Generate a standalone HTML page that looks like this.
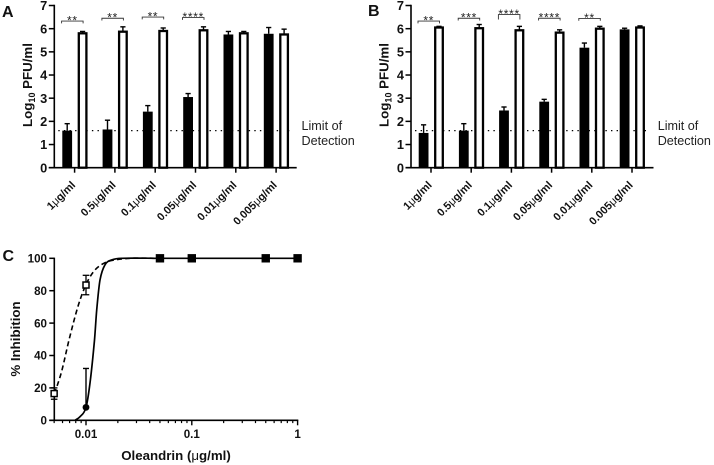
<!DOCTYPE html>
<html>
<head>
<meta charset="utf-8">
<style>
html,body{margin:0;padding:0;background:#fff;width:714px;height:465px;overflow:hidden}
svg{display:block}
text{font-family:"Liberation Sans",Arial,sans-serif;fill:#111}
.tick{font-weight:700;font-size:12.8px}
.tick-c{font-weight:700;font-size:11.6px}
.title{font-weight:700;font-size:13.3px}
.letter{font-weight:700;font-size:16px}
.note{font-size:12.6px;fill:#222}
.cat{font-weight:700;font-size:11px}
.mu{font-weight:400}
.star{font-size:12px;letter-spacing:.7px;text-anchor:middle;fill:#222}
</style>
</head>
<body>
<svg id="figure" width="714" height="465" viewBox="0 0 714 465" xmlns="http://www.w3.org/2000/svg"></svg>
<script>
// ---- Shared bar chart data ----
const doseLabels = ['1', '0.5', '0.1', '0.05', '0.01', '0.005'];
const barTicks = [0, 1, 2, 3, 4, 5, 6, 7];
const limitOfDetection = 1.6;

// ---- Panel A ----
const aBlack = [1.6, 1.65, 2.42, 3.05, 5.75, 5.78];
const aBlackTop = [1.9, 2.05, 2.68, 3.2, 5.88, 6.05];
const aWhite = [5.8, 5.87, 5.9, 5.93, 5.8, 5.75];
const aWhiteTop = [5.88, 6.08, 6.03, 6.08, 5.88, 5.98];
const aSigStars = ['**', '**', '**', '****'];
const aSigLevel = [6.33, 6.45, 6.5, 6.48];

// ---- Panel B ----
const bBlack = [1.5, 1.6, 2.47, 2.85, 5.18, 5.97];
const bBlackTop = [1.85, 1.9, 2.62, 2.95, 5.38, 6.02];
const bWhite = [6.05, 6.02, 5.93, 5.83, 6.0, 6.05];
const bWhiteTop = [6.1, 6.18, 6.1, 5.95, 6.1, 6.12];
const bSigStars = ['**', '***', '****', '****', '**'];
const bSigLevel = [6.33, 6.45, 6.61, 6.45, 6.44];

// ---- Panel C ----
const inhibitionTicks = [0, 20, 40, 60, 80, 100];
const doseTicks = [0.01, 0.1, 1];
const doseTickLabels = ['0.01', '0.1', '1'];
const minorDoses = [0.005, 0.006, 0.007, 0.008, 0.009, 0.02, 0.03, 0.04, 0.05, 0.06, 0.07, 0.08, 0.09, 0.2, 0.3, 0.4, 0.5, 0.6, 0.7, 0.8, 0.9];
const solidCurveDose = [0.00787, 0.00878, 0.01, 0.01091, 0.01203, 0.01262, 0.01356, 0.01512, 0.0175, 0.02175, 0.05, 0.1, 0.5, 1];
const solidCurvePct = [0, 2.2, 8, 23, 49.5, 68, 86.6, 96, 99, 100, 100, 100, 100, 100];
const dashCurveDose = [0.005, 0.0053, 0.00593, 0.00691, 0.00846, 0.01015, 0.01216, 0.01512, 0.0188, 0.026, 0.05];
const dashCurvePct = [16.5, 20.7, 31, 49.6, 71, 84.7, 92.8, 97.3, 99, 100, 100];
const blackSquareDose = [0.05, 0.1, 0.5, 1];
const blackSquarePct = [100, 100, 100, 100];
const whiteSquareDose = [0.005, 0.01];
const whiteSquarePct = [16.5, 83.5];
const whiteSquareErr = [3.5, 6];
const circleDose = [0.01];
const circlePct = [8];
const circleTop = [32];

const svg = document.getElementById('figure');
const NS = 'http://www.w3.org/2000/svg';

function make(tag, parent) {
  const el = document.createElementNS(NS, tag);
  (parent || svg).appendChild(el);
  return el;
}
function line(x1, y1, x2, y2, w, name) {
  const el = make('line');
  el.setAttribute('x1', x1);
  el.setAttribute('y1', y1);
  el.setAttribute('x2', x2);
  el.setAttribute('y2', y2);
  el.setAttribute('stroke', '#000');
  el.setAttribute('stroke-width', w);
  
  
  return el;
}
function label(x, y, str, cls, anchor, name) {
  const el = make('text');
  el.setAttribute('x', x);
  el.setAttribute('y', y);
  el.setAttribute('class', cls);
  el.setAttribute('text-anchor', anchor);
  el.textContent = str;
  
  
  return el;
}
function errorCap(x, yFrom, yTo, capHalf, w, name) {
  line(x, yFrom, x, yTo, w, name);
  line(x - capHalf, yTo, x + capHalf, yTo, w, name + '-cap');
}

function drawBarPanel(p, blackVals, blackTops, whiteVals, whiteTops, stars, levels) {
  const yScale = v => p.y0 - v * p.unit;
  const xCenter = i => p.x0 + i * p.step;

  barTicks.forEach(t => {
    line(p.axisX - 5.5, yScale(t), p.axisX, yScale(t), 1.5, 'y-tick');
    label(p.axisX - 7, yScale(t) + 4.6, String(t), 'tick', 'end', 'y-tick-label');
  });
  line(p.axisX, yScale(7) - 0.7, p.axisX, yScale(0) + 0.7, 1.6, 'y-axis');
  line(p.axisX - 5.5, yScale(0), p.axisEnd, yScale(0), 1.6, 'x-axis');

  const lod = line(p.axisX + 4, yScale(limitOfDetection), p.axisEnd - 3.5, yScale(limitOfDetection), 1.3, 'limit-of-detection-line');
  lod.setAttribute('stroke-dasharray', '1.4 4.2');

  blackVals.forEach((v, i) => {
    const cx = xCenter(i) - 7.4;
    errorCap(cx, yScale(v), yScale(blackTops[i]), 2.6, 1.4, 'black-bar-error');
    const r = make('rect');
    r.setAttribute('x', cx - 4.9);
    r.setAttribute('y', yScale(v));
    r.setAttribute('width', 9.8);
    r.setAttribute('height', yScale(0) - yScale(v));
    r.setAttribute('fill', '#000');
    
    
  });
  whiteVals.forEach((v, i) => {
    const cx = xCenter(i) + 8;
    errorCap(cx, yScale(v), yScale(whiteTops[i]), 2.6, 1.4, 'white-bar-error');
    const r = make('rect');
    r.setAttribute('x', cx - 3.8);
    r.setAttribute('y', yScale(v));
    r.setAttribute('width', 7.6);
    r.setAttribute('height', yScale(0) - yScale(v));
    r.setAttribute('fill', '#fff');
    r.setAttribute('stroke', '#000');
    r.setAttribute('stroke-width', 2.3);
    
    
  });

  doseLabels.forEach((d, i) => {
    const cx = xCenter(i);
    line(cx, yScale(0), cx, yScale(0) + 5, 1.5, 'x-tick');
    const lx = cx + 1.5;
    const ly = yScale(0) + 18;
    const t = make('text');
    t.setAttribute('class', 'cat');
    t.setAttribute('text-anchor', 'end');
    t.setAttribute('transform', 'translate(' + lx + ',' + ly + ') rotate(-45)');
    
    
    t.appendChild(document.createTextNode(d));
    const mu = make('tspan', t);
    mu.setAttribute('class', 'mu');
    
    
    mu.textContent = 'μ';
    t.appendChild(document.createTextNode('g/ml'));
  });

  stars.forEach((s, i) => {
    const left = xCenter(i) - 13;
    const right = xCenter(i) + 8.5;
    const y = yScale(levels[i]);
    const leg = levels[i] > 6.55 ? 5 : 2.3;
    const b = make('path');
    b.setAttribute('d', 'M' + left + ' ' + (y + leg) + 'V' + y + 'H' + right + 'V' + (y + leg));
    b.setAttribute('fill', 'none');
    b.setAttribute('stroke', '#333');
    b.setAttribute('stroke-width', 0.9);
    
    
    label((left + right) / 2, y + 3.4, s, 'star', 'middle', 'significance-stars');
  });

  label(p.noteX, yScale(limitOfDetection) - 0.6, 'Limit of', 'note', 'start', 'limit-of-detection-label');
  label(p.noteX, yScale(limitOfDetection) + 14.4, 'Detection', 'note', 'start', 'limit-of-detection-label');

  const yt = make('text');
  yt.setAttribute('class', 'title');
  yt.setAttribute('text-anchor', 'middle');
  yt.setAttribute('transform', 'translate(' + p.titleX + ',85) rotate(-90)');
  
  
  yt.appendChild(document.createTextNode('Log'));
  const sub = make('tspan', yt);
  sub.setAttribute('font-size', '9px');
  sub.setAttribute('dy', '3');
  
  
  sub.textContent = '10';
  const rest = make('tspan', yt);
  rest.setAttribute('dy', '-3');
  
  
  rest.textContent = ' PFU/ml';
}

drawBarPanel({ axisX: 54.3, axisEnd: 296.7, y0: 167.7, unit: 23.17, x0: 74.6, step: 40.3, noteX: 301.5, titleX: 32 },
  aBlack, aBlackTop, aWhite, aWhiteTop, aSigStars, aSigLevel);
drawBarPanel({ axisX: 411, axisEnd: 653.5, y0: 167.7, unit: 23.17, x0: 431, step: 40.2, noteX: 657.7, titleX: 388.5 },
  bBlack, bBlackTop, bWhite, bWhiteTop, bSigStars, bSigLevel);

label(2, 17, 'A', 'letter', 'start', 'panel-a-label');
label(368, 16, 'B', 'letter', 'start', 'panel-b-label');
label(2.5, 261, 'C', 'letter', 'start', 'panel-c-label');

// ---- Panel C drawing ----
const cY0 = 420.3;
const cYUnit = 1.62;
const cX1 = 86;
const cDecade = 105.8;
const cx = d => cX1 + (Math.log10(d) + 2) * cDecade;
const cy = v => cY0 - v * cYUnit;

function smoothPath(xs, ys) {
  const pts = xs.map((d, i) => [cx(d), cy(ys[i])]);
  let s = 'M' + pts[0][0] + ' ' + pts[0][1];
  for (let i = 0; i < pts.length - 1; i++) {
    const p0 = pts[Math.max(i - 1, 0)];
    const p1 = pts[i];
    const p2 = pts[i + 1];
    const p3 = pts[Math.min(i + 2, pts.length - 1)];
    const dx = p2[0] - p1[0];
    const m1 = (p2[1] - p0[1]) / Math.max(p2[0] - p0[0], 0.01);
    const m2 = (p3[1] - p1[1]) / Math.max(p3[0] - p1[0], 0.01);
    s += 'C' + (p1[0] + dx / 3) + ' ' + (p1[1] + m1 * dx / 3) + ' ' + (p2[0] - dx / 3) + ' ' + (p2[1] - m2 * dx / 3) + ' ' + p2[0] + ' ' + p2[1];
  }
  return s;
}

inhibitionTicks.forEach(t => {
  line(49.3, cy(t), 54.3, cy(t), 1.5, 'inhibition-y-tick');
  label(47, cy(t) + 4.2, String(t), 'tick-c', 'end', 'inhibition-y-tick-label');
});
line(54.3, cy(100) - 0.7, 54.3, cy(0) + 0.7, 1.6, 'inhibition-y-axis');
line(49.3, cy(0), cx(1) + 0.7, cy(0), 1.6, 'dose-x-axis');
minorDoses.forEach(d => {
  line(cx(d), cy(0), cx(d), cy(0) + 2.8, 1.2, 'dose-minor-tick');
});
doseTicks.forEach((d, i) => {
  line(cx(d), cy(0), cx(d), cy(0) + 5, 1.4, 'dose-major-tick');
  label(cx(d), 438.2, doseTickLabels[i], 'tick-c', 'middle', 'dose-tick-label');
});

const solid = make('path');
solid.setAttribute('d', smoothPath(solidCurveDose, solidCurvePct));
solid.setAttribute('fill', 'none');
solid.setAttribute('stroke', '#000');
solid.setAttribute('stroke-width', 1.7);



const dashed = make('path');
dashed.setAttribute('d', smoothPath(dashCurveDose, dashCurvePct));
dashed.setAttribute('fill', 'none');
dashed.setAttribute('stroke', '#000');
dashed.setAttribute('stroke-width', 1.6);
dashed.setAttribute('stroke-dasharray', '5 3.2');



circleDose.forEach((d, i) => {
  errorCap(cx(d), cy(circlePct[i]), cy(circleTop[i]), 3, 1.4, 'circle-error');
  const c = make('circle');
  c.setAttribute('cx', cx(d));
  c.setAttribute('cy', cy(circlePct[i]));
  c.setAttribute('r', 3.4);
  c.setAttribute('fill', '#000');
  
  
});

whiteSquareDose.forEach((d, i) => {
  const x = cx(d);
  const hi = cy(whiteSquarePct[i] + whiteSquareErr[i]);
  const lo = cy(whiteSquarePct[i] - whiteSquareErr[i]);
  line(x, hi, x, lo, 1.3, 'white-square-error');
  line(x - 3.3, hi, x + 3.3, hi, 1.3, 'white-square-error-cap');
  line(x - 3.3, lo, x + 3.3, lo, 1.3, 'white-square-error-cap');
  const r = make('rect');
  r.setAttribute('x', x - 3);
  r.setAttribute('y', cy(whiteSquarePct[i]) - 3);
  r.setAttribute('width', 6);
  r.setAttribute('height', 6);
  r.setAttribute('fill', '#fff');
  r.setAttribute('stroke', '#000');
  r.setAttribute('stroke-width', 1.5);
  
  
});

blackSquareDose.forEach((d, i) => {
  const r = make('rect');
  r.setAttribute('x', cx(d) - 4.2);
  r.setAttribute('y', cy(blackSquarePct[i]) - 4.2);
  r.setAttribute('width', 8.4);
  r.setAttribute('height', 8.4);
  r.setAttribute('fill', '#000');
  
  
});

const yTitleC = label(0, 0, '% Inhibition', 'title', 'middle', 'inhibition-y-axis-title');
yTitleC.setAttribute('transform', 'translate(20,339) rotate(-90)');

const xTitleC = make('text');
xTitleC.setAttribute('x', 176);
xTitleC.setAttribute('y', 460);
xTitleC.setAttribute('class', 'title');
xTitleC.setAttribute('text-anchor', 'middle');


xTitleC.appendChild(document.createTextNode('Oleandrin ('));
const muC = make('tspan', xTitleC);
muC.setAttribute('class', 'mu');


muC.textContent = 'μ';
xTitleC.appendChild(document.createTextNode('g/ml)'));
</script>
</body>
</html>
